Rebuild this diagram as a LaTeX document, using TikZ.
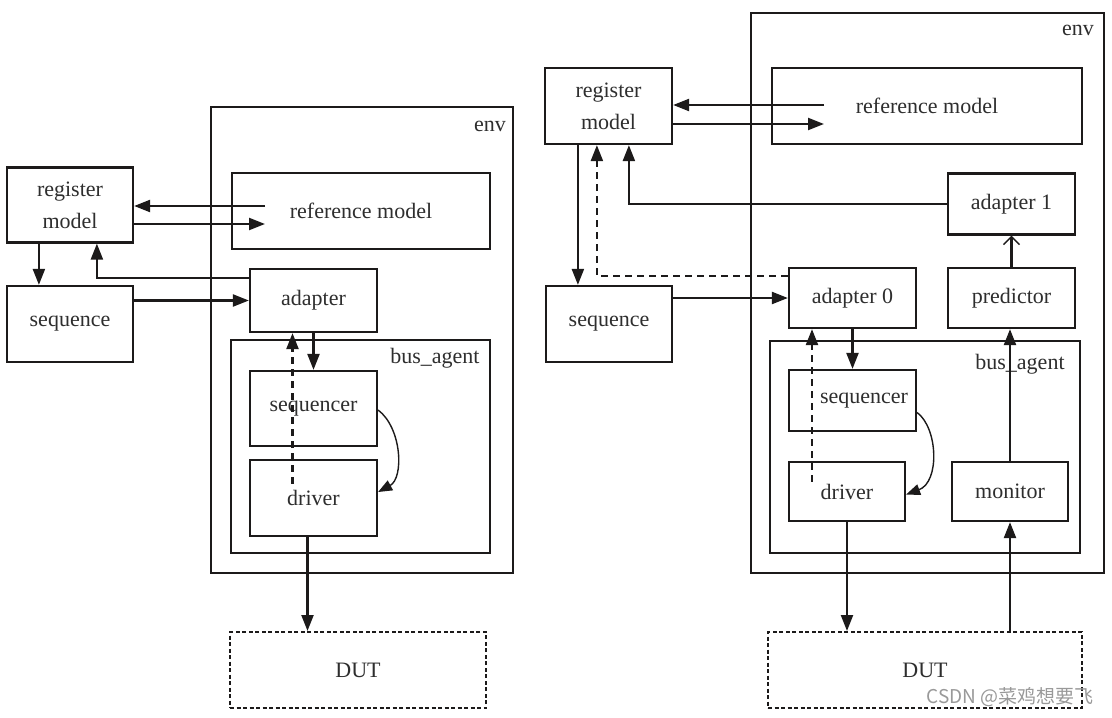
\documentclass[tikz,border=0pt]{standalone}
\usepackage{fontspec}
\setmainfont{Liberation Serif}
\newfontfamily\cjkwm{Noto Sans CJK SC}
\usetikzlibrary{arrows.meta}
\definecolor{ink}{HTML}{1C1A1A}
\definecolor{txt}{HTML}{2E2E2E}
\tikzset{
  box/.style={draw=ink, line width=2.2pt, inner sep=0pt, text=txt, align=center,
    font=\fontsize{22}{32}\selectfont},
  dutbox/.style={box, line width=2pt, dash pattern=on 4pt off 2.5pt},
  lbl/.style={text=txt, inner sep=0pt, font=\fontsize{22}{25}\selectfont},
  arr/.style={draw=ink, line width=2.2pt, -{Triangle[length=16pt,width=12pt]}},
  darr/.style={arr, dash pattern=on 7pt off 5pt},
  carr/.style={draw=ink, line width=1.4pt, -{Triangle[length=14pt,width=11pt]}},
  oarr/.style={draw=ink, line width=2.2pt, -{Straight Barb[length=8pt,width=16pt,line width=1.4pt]}}
}
\begin{document}
\begin{tikzpicture}[x=1pt,y=-1pt]
\useasboundingbox[fill=white] (0,0) rectangle (1112,718);

% ---------------- left diagram ----------------
\node[box, minimum width=302, minimum height=466] (lenv) at (362,340) {};
\node[lbl] (lenvl) at (490,126) {env};
\node[box, minimum width=126, minimum height=75] (lreg) at (70,205) {register\\model};
\node[box, minimum width=258, minimum height=76] (lref) at (361,211) {reference model};
\node[box, minimum width=126, minimum height=76] (lseq) at (70,324) {sequence};
\node[box, minimum width=127, minimum height=63] (ladp) at (313.5,300.5) {adapter};
\node[box, minimum width=259, minimum height=213] (lbus) at (360.5,446.5) {};
\node[lbl] (lbusl) at (435,358) {bus\_agent};
\node[box, minimum width=127, minimum height=75] (lseqr) at (313.5,408.5) {sequencer};
\node[box, minimum width=127, minimum height=76] (ldrv) at (313.5,498) {driver};
\node[dutbox, minimum width=256, minimum height=76] (ldut) at (358,670) {DUT};

\coordinate (lrefout) at (265,206);
\coordinate (lrefin) at (265,224);
\draw[arr] (lrefout) -- (lrefout -| lreg.east);
\draw[arr] (lreg.east |- lrefin) -- (lrefin);
\draw[arr] ([xshift=33pt]lreg.south west) -- ([xshift=33pt]lseq.north west);
\draw[arr] ([yshift=-10pt]ladp.north west) -| ([xshift=91pt]lreg.south west);
\draw[arr] (lseq.east |- ladp.west) -- (ladp.west);
\draw[arr] (ladp.south) -- (lseqr.north);
\draw[darr] ([xshift=-21pt,yshift=-25pt]ldrv.north) -- ([xshift=-21pt]ladp.south);
\draw[carr] ([yshift=-1.5pt]lseqr.east) .. controls (402,428) and (404,478) .. ([yshift=6pt]ldrv.east);
\draw[arr] ([xshift=-6pt]ldrv.south) -- ([xshift=-6pt]ldrv.south |- ldut.north);

% ---------------- right diagram ----------------
\node[box, minimum width=353, minimum height=560] (renv) at (927.5,293) {};
\node[lbl] (renvl) at (1078,30) {env};
\node[box, minimum width=127, minimum height=76] (rreg) at (608.5,106) {register\\model};
\node[box, minimum width=310, minimum height=76] (rref) at (927,106) {reference model};
\node[box, minimum width=126, minimum height=76] (rseq) at (609,324) {sequence};
\node[box, minimum width=127, minimum height=61] (radpa) at (1011.5,204) {adapter 1};
\node[box, minimum width=127, minimum height=60] (rpred) at (1011.5,298) {predictor};
\node[box, minimum width=127, minimum height=60] (radpo) at (852.5,298) {adapter 0};
\node[box, minimum width=310, minimum height=212] (rbus) at (925,447) {};
\node[lbl] (rbusl) at (1020,364) {bus\_agent};
\node[box, minimum width=127, minimum height=61] (rseqr) at (852.5,400.5) {\hspace*{23pt}sequencer};
\node[box, minimum width=116, minimum height=59] (rdrv) at (847,491.5) {driver};
\node[box, minimum width=116, minimum height=59] (rmon) at (1010,491.5) {monitor};
\node[dutbox, minimum width=314, minimum height=76] (rdut) at (925,670) {DUT};

\coordinate (rrefout) at (824,105);
\coordinate (rrefin) at (824,124);
\draw[arr] (rrefout) -- (rrefout -| rreg.east);
\draw[arr] (rreg.east |- rrefin) -- (rrefin);
\draw[arr] ([xshift=34pt]rreg.south west) -- ([xshift=34pt]rreg.south west |- rseq.north);
\draw[darr] ([yshift=-9pt]radpo.north west) -| ([xshift=53pt]rreg.south west);
\draw[arr] (radpa.west) -| ([xshift=85pt]rreg.south west);
\draw[arr] (rseq.east |- radpo.west) -- (radpo.west);
\draw[oarr] (rpred.north) -- (radpa.south);
\draw[arr] (radpo.south) -- (rseqr.north);
\draw[darr] ([xshift=-35pt,yshift=-21pt]rdrv.north) -- ([xshift=-35pt]rdrv.north |- radpo.south);
\draw[carr] ([yshift=-12pt]rseqr.east) .. controls (938,428) and (940,482) .. ([yshift=-3pt]rdrv.east);
\draw[arr] (rmon.north) -- (rmon.north |- rpred.south);
\draw[arr] (rdrv.south) -- (rdrv.south |- rdut.north);
\draw[arr] (rmon.south |- rdut.north) -- (rmon.south);

% watermark
\node[text=black!40, inner sep=0pt, font=\cjkwm\fontsize{19}{22}\selectfont] (wm) at (1010,697) {CSDN @菜鸡想要飞};
\end{tikzpicture}
\end{document}
